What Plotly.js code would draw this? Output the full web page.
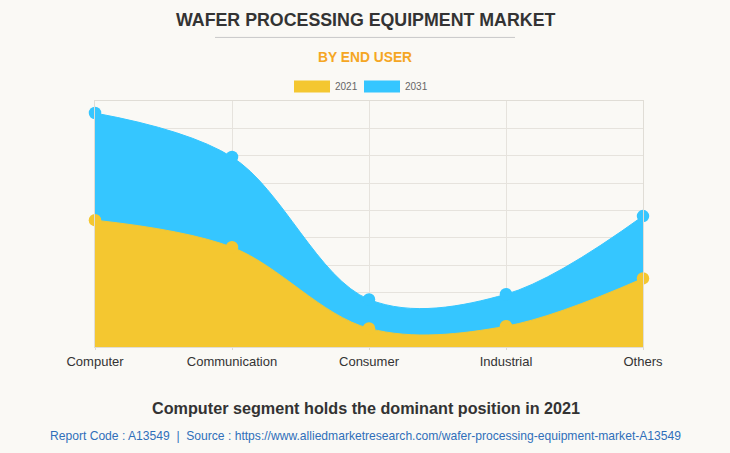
<!DOCTYPE html>
<html>
<head>
<meta charset="utf-8">
<script src="https://cdn.plot.ly/plotly-3.0.1.min.js"></script>
<style>
html,body{margin:0;padding:0;background:#faf9f5;}
#chart{width:730px;height:453px;}
</style>
</head>
<body>
<div id="chart"></div>
<script>
const categories = ["Computer", "Communication", "Consumer", "Industrial", "Others"];
const values2021 = [4.64, 3.65, 0.68, 0.76, 2.51];
const values2031 = [8.56, 6.95, 1.74, 1.93, 4.79];
const seriesNames = ["2021", "2031"];
const colors = {"2021": "#f4c730", "2031": "#35c6ff"};

const xIdx = categories.map((c, i) => i);

function areaTrace(name, vals) {
  return {
    type: "scatter", mode: "lines+markers", name: name,
    x: xIdx, y: vals,
    line: {shape: "spline", smoothing: 1, width: 1, color: colors[name]},
    fill: "tozeroy", fillcolor: colors[name],
    marker: {size: 12.5, color: colors[name]},
    cliponaxis: false, showlegend: false, hoverinfo: "x+y"
  };
}

const data = [areaTrace("2031", values2031), areaTrace("2021", values2021)];

// convert pixel positions to paper coordinates
const plotTop = 101, plotH = 245.7, plotL = 95, plotW = 548;
const py = y => (plotTop + plotH - y) / plotH;
const px = x => (x - plotL) / plotW;

const shapes = [
  {type: "line", xref: "paper", yref: "paper", x0: px(215), x1: px(515), y0: py(37.5), y1: py(37.5), line: {color: "#c8c8c8", width: 1}},
  {type: "rect", xref: "paper", yref: "paper", x0: px(294), x1: px(330), y0: py(80.5), y1: py(92.5), line: {width: 0}, fillcolor: colors["2021"]},
  {type: "rect", xref: "paper", yref: "paper", x0: px(364), x1: px(400), y0: py(80.5), y1: py(92.5), line: {width: 0}, fillcolor: colors["2031"]}
];

const annotations = [
  {text: "<b>WAFER PROCESSING EQUIPMENT MARKET</b>", xref: "paper", yref: "paper", x: px(365), y: py(20), showarrow: false, xanchor: "center", yanchor: "middle", font: {family: "Liberation Sans, Arial", size: 17.8, color: "#333333"}},
  {text: "<b>BY END USER</b>", xref: "paper", yref: "paper", x: px(365), y: py(58), showarrow: false, xanchor: "center", yanchor: "middle", font: {family: "Liberation Sans, Arial", size: 13.8, color: "#f5a623"}},
  {text: seriesNames[0], xref: "paper", yref: "paper", x: px(333), y: py(86.5), showarrow: false, xanchor: "left", yanchor: "middle", font: {family: "Liberation Sans, Arial", size: 10, color: "#666666"}},
  {text: seriesNames[1], xref: "paper", yref: "paper", x: px(403), y: py(86.5), showarrow: false, xanchor: "left", yanchor: "middle", font: {family: "Liberation Sans, Arial", size: 10, color: "#666666"}},
  {text: "<b>Computer segment holds the dominant position in 2021</b>", xref: "paper", yref: "paper", x: px(366), y: py(408), showarrow: false, xanchor: "center", yanchor: "middle", font: {family: "Liberation Sans, Arial", size: 16.2, color: "#333333"}},
  {text: "Report Code : A13549  |  Source : https://www.alliedmarketresearch.com/wafer-processing-equipment-market-A13549", xref: "paper", yref: "paper", x: px(365.5), y: py(436), showarrow: false, xanchor: "center", yanchor: "middle", font: {family: "Liberation Sans, Arial", size: 12.1, color: "#2f6fba"}}
];

const layout = {
  width: 730, height: 453,
  paper_bgcolor: "#faf9f5", plot_bgcolor: "#faf9f5",
  margin: {l: 95, r: 87, t: 101, b: 106.3},
  showlegend: false,
  xaxis: {
    range: [0, categories.length - 1], tickmode: "array", tickvals: xIdx, ticktext: categories,
    showgrid: true, gridcolor: "#e6e3dd", gridwidth: 1, zeroline: false,
    showline: true, linecolor: "#e0ddd6", mirror: true,
    ticks: "outside", ticklen: 2, tickcolor: "#dcd9d2",
    tickfont: {family: "Liberation Sans, Arial", size: 13, color: "#333333"}
  },
  yaxis: {
    range: [0, 9], dtick: 1, showticklabels: false,
    showgrid: true, gridcolor: "#e6e3dd", gridwidth: 1, zeroline: false,
    showline: true, linecolor: "#e0ddd6", mirror: true,
    ticks: "", ticklen: 0
  },
  shapes: shapes, annotations: annotations
};

Plotly.newPlot("chart", data, layout, {displayModeBar: false, staticPlot: true});
</script>
</body>
</html>
